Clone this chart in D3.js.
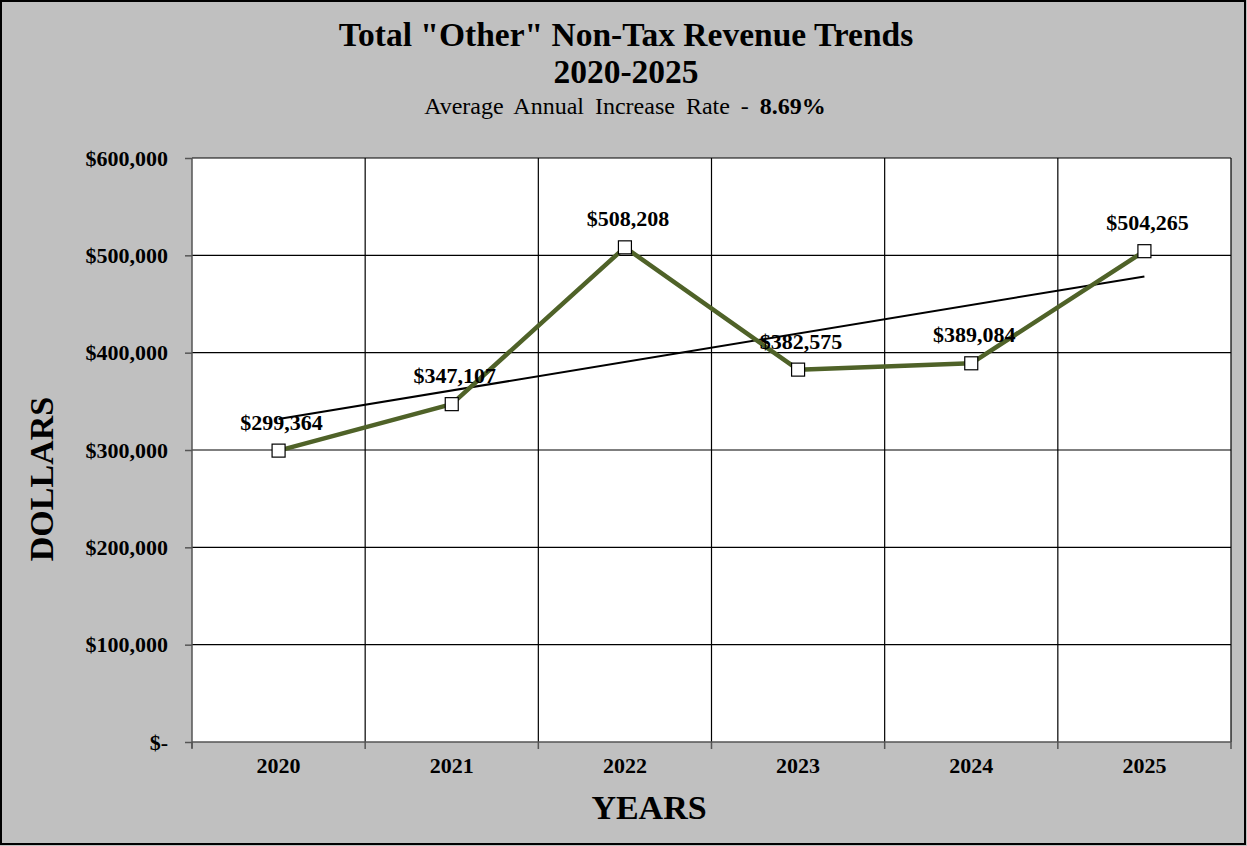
<!DOCTYPE html>
<html>
<head>
<meta charset="utf-8">
<script src="https://cdn.jsdelivr.net/npm/d3@7"></script>
<style>
  html, body { margin: 0; padding: 0; background: #c0c0c0; }
  svg { display: block; }
  text { font-family: "Liberation Serif", "Times New Roman", serif; fill: #000; }
</style>
</head>
<body>
<svg id="chart" width="1247" height="846"></svg>
<script>
// Revenue data by fiscal year
const years = ["2020", "2021", "2022", "2023", "2024", "2025"];
const revenue = [299364, 347107, 508208, 382575, 389084, 504265];
const yTicks = [0, 100000, 200000, 300000, 400000, 500000, 600000];

const W = 1247, H = 846;
const margin = { left: 192, right: 16, top: 158, bottom: 104 };
const plotW = W - margin.left - margin.right;
const plotH = H - margin.top - margin.bottom;

const svg = d3.select("#chart");

// Outer frame
svg.append("rect").attr("x", 1).attr("y", 1).attr("width", W - 3).attr("height", H - 3)
  .attr("fill", "#c0c0c0").attr("stroke", "#000").attr("stroke-width", 2);

const g = svg.append("g").attr("transform", `translate(${margin.left},${margin.top})`);

const x = d3.scaleBand().domain(years).range([0, plotW]).padding(0);
const y = d3.scaleLinear().domain([0, 600000]).range([plotH, 0]);

// Plot area
g.append("rect").attr("width", plotW).attr("height", plotH).attr("fill", "#fff");

// Horizontal gridlines
g.append("g").selectAll("line").data(yTicks.filter(d => d > 0)).join("line")
  .attr("x1", 0).attr("x2", plotW)
  .attr("y1", d => y(d)).attr("y2", d => y(d))
  .attr("stroke", "#000").attr("stroke-width", 1.2);

// Vertical gridlines at category boundaries
const bounds = years.map(d => x(d)).concat([plotW]);
g.append("g").selectAll("line").data(bounds.slice(1)).join("line")
  .attr("x1", d => d).attr("x2", d => d)
  .attr("y1", 0).attr("y2", plotH)
  .attr("stroke", "#000").attr("stroke-width", 1.2);

// Y axis
const fmt = d => d === 0 ? "$-" : "$" + d3.format(",")(d);
const yAxis = g.append("g")
  .call(d3.axisLeft(y).tickValues(yTicks).tickFormat(fmt).tickSize(7).tickPadding(17));
yAxis.select(".domain").attr("stroke", "#555").attr("stroke-width", 1.5).attr("d", `M0,0V${plotH + 6}`);
yAxis.selectAll(".tick line").attr("stroke", "#555").attr("stroke-width", 1.5);
yAxis.selectAll(".tick text")
  .style("font-family", '"Liberation Serif", serif')
  .style("font-size", "22px").style("font-weight", "bold").attr("fill", "#000");

// X axis baseline and boundary ticks
g.append("line").attr("x1", 0).attr("x2", plotW).attr("y1", plotH).attr("y2", plotH)
  .attr("stroke", "#555").attr("stroke-width", 1.5);
g.append("g").selectAll("line").data(bounds).join("line")
  .attr("x1", d => d).attr("x2", d => d)
  .attr("y1", plotH).attr("y2", plotH + 7)
  .attr("stroke", "#555").attr("stroke-width", 1.5);
g.append("g").selectAll("text").data(years).join("text")
  .attr("x", d => x(d) + x.bandwidth() / 2)
  .attr("y", plotH + 31)
  .attr("text-anchor", "middle")
  .style("font-size", "22px").style("font-weight", "bold")
  .text(d => d);

// Linear trend line (least squares over the year index)
const n = revenue.length;
const idx = d3.range(n);
const mx = d3.mean(idx), my = d3.mean(revenue);
const slope = d3.sum(idx, i => (i - mx) * (revenue[i] - my)) / d3.sum(idx, i => (i - mx) ** 2);
const intercept = my - slope * mx;
const cx = i => x(years[i]) + x.bandwidth() / 2;
g.append("line")
  .attr("x1", cx(0)).attr("y1", y(intercept))
  .attr("x2", cx(n - 1)).attr("y2", y(intercept + slope * (n - 1)))
  .attr("stroke", "#000").attr("stroke-width", 2);

// Revenue line
const line = d3.line().x((d, i) => cx(i)).y(d => y(d));
g.append("path").datum(revenue).attr("d", line)
  .attr("fill", "none").attr("stroke", "#4f6228").attr("stroke-width", 4.5)
  .attr("stroke-linejoin", "round");

// Markers
const ms = 13;
g.append("g").selectAll("rect").data(revenue).join("rect")
  .attr("x", (d, i) => cx(i) - ms / 2).attr("y", d => y(d) - ms / 2)
  .attr("width", ms).attr("height", ms)
  .attr("fill", "#fff").attr("stroke", "#000").attr("stroke-width", 1.2);

// Value labels
g.append("g").selectAll("text").data(revenue).join("text")
  .attr("x", (d, i) => cx(i) + 3)
  .attr("y", d => y(d) - 21)
  .attr("text-anchor", "middle")
  .style("font-size", "22px").style("font-weight", "bold")
  .text(d => "$" + d3.format(",")(d));

// Titles
svg.append("text").attr("x", 626).attr("y", 46).attr("text-anchor", "middle")
  .style("font-size", "33.5px").style("font-weight", "bold")
  .text('Total "Other" Non-Tax Revenue Trends');
svg.append("text").attr("x", 626).attr("y", 83).attr("text-anchor", "middle")
  .style("font-size", "33.5px").style("font-weight", "bold")
  .text("2020-2025");
const sub = svg.append("text").attr("x", 625).attr("y", 114).attr("text-anchor", "middle")
  .style("font-size", "24px").style("word-spacing", "5px");
sub.append("tspan").text("Average Annual Increase Rate - ");
sub.append("tspan").style("font-weight", "bold").text("8.69%");

// Axis titles
svg.append("text").attr("transform", "translate(53,479) rotate(-90)")
  .attr("text-anchor", "middle")
  .style("font-size", "34px").style("font-weight", "bold")
  .text("DOLLARS");
svg.append("text").attr("x", 649).attr("y", 819).attr("text-anchor", "middle")
  .style("font-size", "34px").style("font-weight", "bold")
  .text("YEARS");
</script>
</body>
</html>
